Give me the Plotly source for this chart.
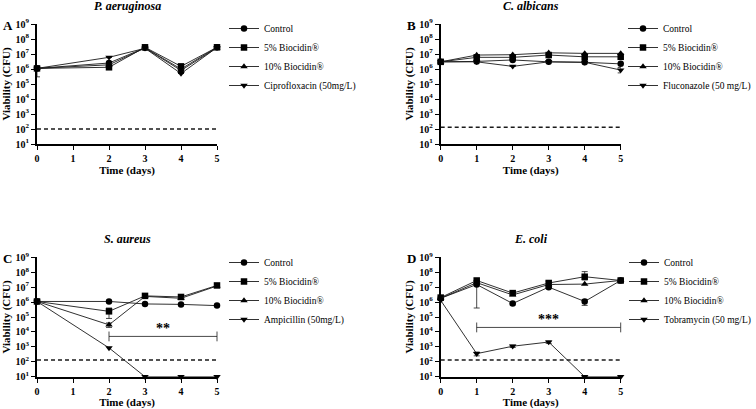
import plotly.graph_objects as go
import math

# ---------------- data ----------------
days_A = [0, 2, 3, 4, 5]
A_control = [1.1e6, 2.5e6, 2.6e7, 1.0e6, 2.8e7]
A_bio5 = [1.1e6, 1.3e6, 2.8e7, 1.5e6, 2.8e7]
A_bio10 = [1.1e6, 1.9e6, 2.5e7, 8.0e5, 2.6e7]
A_drug = [1.1e6, 6.0e6, 2.4e7, 5.0e5, 2.7e7]
A_drug_err_up = [0, 0, 0, 0, 0]
A_drug_err_dn = [8.0e5, 0, 0, 0, 0]
A_names = ["Control", "5% Biocidin®", "10% Biocidin®", "Ciprofloxacin (50mg/L)"]
A_limit = 100

days_B = [0, 1, 2, 3, 4, 5]
B_control = [3.0e6, 3.2e6, 4.0e6, 3.0e6, 2.8e6, 2.2e6]
B_bio5 = [3.0e6, 6.0e6, 6.0e6, 8.5e6, 6.5e6, 6.5e6]
B_bio10 = [3.0e6, 8.5e6, 9.0e6, 1.2e7, 1.1e7, 1.1e7]
B_drug = [3.0e6, 3.0e6, 1.5e6, 3.0e6, 2.8e6, 8.5e5]
B_drug_err_up = [0, 0, 0, 0, 0, 4.0e5]
B_drug_err_dn = [0, 0, 0, 0, 0, 3.0e5]
B_names = ["Control", "5% Biocidin®", "10% Biocidin®", "Fluconazole (50 mg/L)"]
B_limit = 130

days_C = [0, 2, 3, 4, 5]
C_control = [1.1e6, 1.1e6, 7.5e5, 7.0e5, 5.8e5]
C_bio5 = [1.1e6, 2.4e5, 2.6e6, 2.2e6, 1.3e7]
C_bio5_err = [0, 1.6e5, 0, 0, 0]
C_bio10 = [1.1e6, 3.0e4, 2.4e6, 1.8e6, 1.2e7]
C_bio10_err = [0, 1.0e4, 0, 0, 0]
C_drug = [1.1e6, 850, 10, 10, 10]
C_names = ["Control", "5% Biocidin®", "10% Biocidin®", "Ampicillin (50mg/L)"]
C_limit = 130
C_sig_x = [2, 5]
C_sig_y = 5.0e3
C_sig_label = "**"
C_sig_label_x = 3.5

days_D = [0, 1, 2, 3, 4, 5]
D_control = [1.8e6, 1.5e7, 8.0e5, 1.0e7, 1.1e6, 2.8e7]
D_control_err_up = [0, 0, 0, 0, 4.0e5, 0]
D_control_err_dn = [0, 1.46e7, 1.5e5, 0, 5.0e5, 0]
D_bio5 = [2.0e6, 2.8e7, 4.0e6, 1.9e7, 5.0e7, 2.8e7]
D_bio5_err_up = [0, 0, 0, 6.0e6, 6.0e7, 0]
D_bio5_err_dn = [0, 0, 0, 5.0e6, 2.0e7, 0]
D_bio10 = [1.8e6, 2.0e7, 3.0e6, 1.5e7, 1.6e7, 2.8e7]
D_drug = [1.3e6, 350, 1.1e3, 2.1e3, 10, 10]
D_drug_err = [0, 100, 200, 400, 0, 0]
D_names = ["Control", "5% Biocidin®", "10% Biocidin®", "Tobramycin (50 mg/L)"]
D_limit = 130
D_sig_x = [1, 5]
D_sig_y = 2.0e4
D_sig_label = "***"
D_sig_label_x = 3

titles = ["P. aeruginosa", "C. albicans", "S. aureus", "E. coli"]
letters = ["A", "B", "C", "D"]
x_ticks = [0, 1, 2, 3, 4, 5]
y_exps = [1, 2, 3, 4, 5, 6, 7, 8, 9]

# ---------------- layout constants ----------------
W, H = 756, 409
FONT = "Liberation Serif"
INK = "#1a1a1a"
symbols = ["circle", "square", "triangle-up", "triangle-down"]
msizes = [6.5, 6.5, 6.5, 6.5]

# pixel boxes for the four plot areas: (x0, x1, ytop, ybottom)
boxes = [(37, 217, 24, 144), (440.7, 620.7, 24, 144),
         (37, 217, 257.3, 376.7), (440.7, 620.7, 257.3, 376.7)]
# legend anchor (x, y, xanchor)
legend_pos = [(224, 57, "left"), (756, 57, "right"), (224, 291, "left"), (756, 291, "right")]

fig = go.Figure()

def px(x):
    return x / W

def py(y):
    return 1 - y / H

panels = [
    (days_A, [A_control, A_bio5, A_bio10, A_drug], A_names, A_limit,
     [None, None, None, (A_drug_err_up, A_drug_err_dn)], None),
    (days_B, [B_control, B_bio5, B_bio10, B_drug], B_names, B_limit,
     [None, None, None, (B_drug_err_up, B_drug_err_dn)], None),
    (days_C, [C_control, C_bio5, C_bio10, C_drug], C_names, C_limit,
     [None, (C_bio5_err, C_bio5_err), (C_bio10_err, C_bio10_err), None],
     (C_sig_x, C_sig_y, C_sig_label, C_sig_label_x)),
    (days_D, [D_control, D_bio5, D_bio10, D_drug], D_names, D_limit,
     [(D_control_err_up, D_control_err_dn), (D_bio5_err_up, D_bio5_err_dn), None,
      (D_drug_err, D_drug_err)],
     (D_sig_x, D_sig_y, D_sig_label, D_sig_label_x)),
]

for i, (days, series, names, limit, errs, sig) in enumerate(panels):
    k = i + 1
    xa = "x" if k == 1 else f"x{k}"
    ya = "y" if k == 1 else f"y{k}"
    lg = "legend" if k == 1 else f"legend{k}"
    # detection limit
    fig.add_trace(go.Scatter(x=[x_ticks[0], x_ticks[-1]], y=[limit, limit], mode="lines",
                             line=dict(color=INK, width=1.5, dash="4px,3px"),
                             showlegend=False, xaxis=xa, yaxis=ya, hoverinfo="skip"))
    for j, (vals, name) in enumerate(zip(series, names)):
        err = errs[j]
        ey = None
        if err is not None:
            ey = dict(type="data", symmetric=False, array=err[0], arrayminus=err[1],
                      color=INK, thickness=0.8, width=3)
        fig.add_trace(go.Scatter(x=days, y=vals, name=name, mode="lines+markers",
                                 line=dict(color=INK, width=0.9),
                                 marker=dict(symbol=symbols[j], size=msizes[j], color="black"),
                                 error_y=ey, cliponaxis=False,
                                 xaxis=xa, yaxis=ya, legend=lg))
    if sig is not None:
        sx, sy, lab, lx = sig
        fig.add_trace(go.Scatter(x=sx, y=[sy, sy], mode="lines+markers",
                                 line=dict(color=INK, width=0.8),
                                 marker=dict(symbol="line-ns", size=7,
                                             line=dict(color=INK, width=0.8)),
                                 showlegend=False, xaxis=xa, yaxis=ya, hoverinfo="skip",
                                 cliponaxis=False))
        fig.add_annotation(x=lx, y=math.log10(sy) + 0.5,
                           xref=xa, yref=ya, text=f"<b>{lab}</b>", showarrow=False,
                           yanchor="middle",
                           font=dict(family=FONT, size=14, color="black"))

    x0, x1, yt, yb = boxes[i]
    axis_common = dict(showline=True, linecolor="black", linewidth=1.8, ticks="outside",
                       ticklen=4, tickwidth=1.4, tickcolor="black", showgrid=False,
                       zeroline=False, automargin=False,
                       tickfont=dict(family=FONT, size=10, color="black"))
    lx, ly, lanchor = legend_pos[i]
    fig.update_layout(**{
        ("xaxis" if k == 1 else f"xaxis{k}"): dict(
            domain=[px(x0), px(x1)], anchor=ya, range=[0, 5],
            tickvals=x_ticks, ticktext=[f"<b>{t}</b>" for t in x_ticks],
            title=dict(text="<b>Time (days)</b>", font=dict(family=FONT, size=11, color="black"),
                       standoff=2),
            **axis_common),
        ("yaxis" if k == 1 else f"yaxis{k}"): dict(
            domain=[py(yb), py(yt)], anchor=xa, type="log", range=[1, 9],
            tickvals=[10 ** e for e in y_exps],
            ticktext=[f"<b>10<sup>{e}</sup></b>" for e in y_exps],
            title=dict(text="<b>Viability (CFU)</b>", font=dict(family=FONT, size=11, color="black"),
                       standoff=3),
            **axis_common),
        lg: dict(x=px(lx), y=py(ly), xanchor=lanchor, yanchor="middle",
                 font=dict(family=FONT, size=9.5, color="black"), bgcolor="rgba(0,0,0,0)",
                 tracegroupgap=0, itemwidth=30),
    })
    # panel title
    fig.add_annotation(x=px((x0 + x1) / 2), y=py(yt - 18), xref="paper", yref="paper",
                       text=f"<b><i>{titles[i]}</i></b>", showarrow=False,
                       xanchor="center", yanchor="middle",
                       font=dict(family=FONT, size=12, color="black"))
    # panel letter
    fig.add_annotation(x=px(x0 - 36), y=py(yt + 1), xref="paper", yref="paper",
                       text=f"<b>{letters[i]}</b>", showarrow=False, xanchor="left",
                       yanchor="middle",
                       font=dict(family=FONT, size=13, color="black"))

fig.update_layout(width=W, height=H, margin=dict(l=0, r=0, t=0, b=0),
                  paper_bgcolor="white", plot_bgcolor="white")

fig.write_html("out.html")
